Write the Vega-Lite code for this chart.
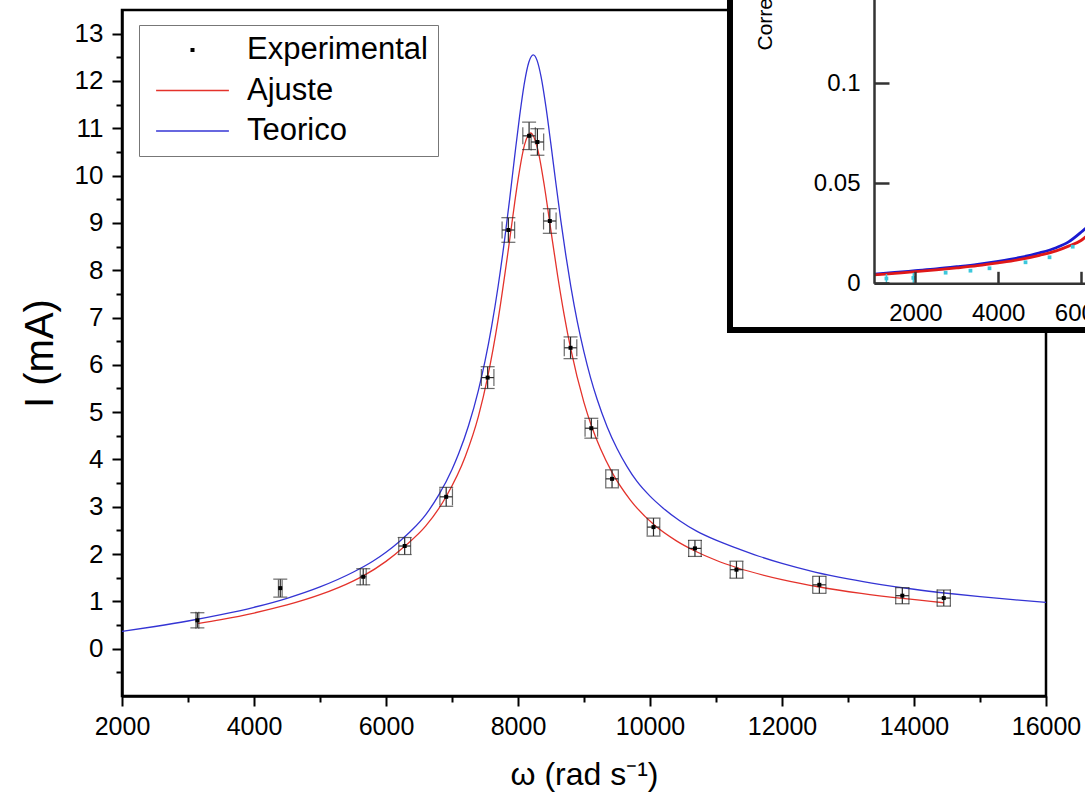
{
  "$schema": "https://vega.github.io/schema/vega-lite/v6.json",
  "width": 924,
  "height": 686,
  "autosize": "none",
  "padding": {"left": 122, "top": 10, "right": 39, "bottom": 107},
  "background": "white",
  "view": {"stroke": "black", "strokeWidth": 2.5},
  "config": {
    "font": "Liberation Sans",
    "axis": {"grid": false, "labelColor": "black", "titleColor": "black", "titleFontWeight": "normal", "labelFlush": false}
  },
  "datasets": {
    "teo": [
      {"w": 2000, "I": 0.365}, {"w": 2500, "I": 0.469}, {"w": 3000, "I": 0.585}, {"w": 3500, "I": 0.719},
      {"w": 4000, "I": 0.875}, {"w": 4500, "I": 1.066}, {"w": 5000, "I": 1.306}, {"w": 5500, "I": 1.616},
      {"w": 5800, "I": 1.848}, {"w": 6000, "I": 2.04}, {"w": 6200, "I": 2.262}, {"w": 6400, "I": 2.518},
      {"w": 6600, "I": 2.83}, {"w": 6800, "I": 3.25}, {"w": 7000, "I": 3.789}, {"w": 7100, "I": 4.119},
      {"w": 7250, "I": 4.712}, {"w": 7400, "I": 5.461}, {"w": 7500, "I": 6.076}, {"w": 7600, "I": 6.806},
      {"w": 7700, "I": 7.671}, {"w": 7800, "I": 8.678}, {"w": 7875, "I": 9.52}, {"w": 7950, "I": 10.411},
      {"w": 8025, "I": 11.262}, {"w": 8100, "I": 11.983}, {"w": 8165, "I": 12.4}, {"w": 8231, "I": 12.55},
      {"w": 8290, "I": 12.43}, {"w": 8350, "I": 12.087}, {"w": 8425, "I": 11.436}, {"w": 8500, "I": 10.648},
      {"w": 8575, "I": 9.827}, {"w": 8650, "I": 9.039}, {"w": 8725, "I": 8.313}, {"w": 8800, "I": 7.66},
      {"w": 8900, "I": 6.903}, {"w": 9000, "I": 6.269}, {"w": 9100, "I": 5.725}, {"w": 9200, "I": 5.266},
      {"w": 9350, "I": 4.693}, {"w": 9500, "I": 4.232}, {"w": 9650, "I": 3.855}, {"w": 9800, "I": 3.54},
      {"w": 10000, "I": 3.224}, {"w": 10200, "I": 2.97}, {"w": 10450, "I": 2.705}, {"w": 10700, "I": 2.49},
      {"w": 11000, "I": 2.293}, {"w": 11300, "I": 2.13}, {"w": 11650, "I": 1.954}, {"w": 12000, "I": 1.802},
      {"w": 12500, "I": 1.62}, {"w": 13000, "I": 1.475}, {"w": 13500, "I": 1.356}, {"w": 14000, "I": 1.256},
      {"w": 14500, "I": 1.172}, {"w": 15000, "I": 1.099}, {"w": 15500, "I": 1.036}, {"w": 16000, "I": 0.98}
    ],
    "aju": [
      {"w": 3142, "I": 0.529}, {"w": 3500, "I": 0.615}, {"w": 4000, "I": 0.754}, {"w": 4500, "I": 0.924},
      {"w": 5000, "I": 1.141}, {"w": 5500, "I": 1.429}, {"w": 5655, "I": 1.539}, {"w": 6000, "I": 1.846},
      {"w": 6283, "I": 2.165}, {"w": 6600, "I": 2.589}, {"w": 6912, "I": 3.216}, {"w": 7200, "I": 4.057},
      {"w": 7400, "I": 4.91}, {"w": 7540, "I": 5.74}, {"w": 7700, "I": 6.967}, {"w": 7854, "I": 8.441},
      {"w": 7950, "I": 9.428}, {"w": 8000, "I": 9.909}, {"w": 8100, "I": 10.656}, {"w": 8190, "I": 10.9},
      {"w": 8300, "I": 10.549}, {"w": 8400, "I": 9.775}, {"w": 8482, "I": 8.999}, {"w": 8600, "I": 7.888},
      {"w": 8700, "I": 7.051}, {"w": 8796, "I": 6.356}, {"w": 9000, "I": 5.201}, {"w": 9111, "I": 4.718},
      {"w": 9250, "I": 4.224}, {"w": 9425, "I": 3.728}, {"w": 9700, "I": 3.147}, {"w": 10053, "I": 2.628},
      {"w": 10400, "I": 2.278}, {"w": 10681, "I": 2.064}, {"w": 11000, "I": 1.869}, {"w": 11310, "I": 1.716},
      {"w": 12000, "I": 1.46}, {"w": 12566, "I": 1.304}, {"w": 13200, "I": 1.169}, {"w": 13823, "I": 1.062},
      {"w": 14451, "I": 0.971}
    ],
    "pts": [
      {"w": 3142, "I": 0.6, "Ilo": 0.44, "Ihi": 0.76, "wlo": 3120, "whi": 3164, "s": "Experimental"},
      {"w": 4398, "I": 1.28, "Ilo": 1.09, "Ihi": 1.47, "wlo": 4370, "whi": 4426, "s": "Experimental"},
      {"w": 5655, "I": 1.52, "Ilo": 1.35, "Ihi": 1.69, "wlo": 5610, "whi": 5700, "s": "Experimental"},
      {"w": 6283, "I": 2.17, "Ilo": 1.99, "Ihi": 2.35, "wlo": 6193, "whi": 6373, "s": "Experimental"},
      {"w": 6912, "I": 3.21, "Ilo": 3.01, "Ihi": 3.41, "wlo": 6817, "whi": 7007, "s": "Experimental"},
      {"w": 7540, "I": 5.73, "Ilo": 5.5, "Ihi": 5.96, "wlo": 7445, "whi": 7635, "s": "Experimental"},
      {"w": 7854, "I": 8.85, "Ilo": 8.59, "Ihi": 9.11, "wlo": 7759, "whi": 7949, "s": "Experimental"},
      {"w": 8168, "I": 10.84, "Ilo": 10.55, "Ihi": 11.13, "wlo": 8073, "whi": 8263, "s": "Experimental"},
      {"w": 8294, "I": 10.71, "Ilo": 10.43, "Ihi": 10.99, "wlo": 8199, "whi": 8389, "s": "Experimental"},
      {"w": 8482, "I": 9.04, "Ilo": 8.78, "Ihi": 9.3, "wlo": 8387, "whi": 8577, "s": "Experimental"},
      {"w": 8796, "I": 6.36, "Ilo": 6.13, "Ihi": 6.59, "wlo": 8701, "whi": 8891, "s": "Experimental"},
      {"w": 9111, "I": 4.66, "Ilo": 4.45, "Ihi": 4.87, "wlo": 9016, "whi": 9206, "s": "Experimental"},
      {"w": 9425, "I": 3.59, "Ilo": 3.4, "Ihi": 3.78, "wlo": 9330, "whi": 9520, "s": "Experimental"},
      {"w": 10053, "I": 2.57, "Ilo": 2.38, "Ihi": 2.76, "wlo": 9958, "whi": 10148, "s": "Experimental"},
      {"w": 10681, "I": 2.12, "Ilo": 1.95, "Ihi": 2.29, "wlo": 10586, "whi": 10776, "s": "Experimental"},
      {"w": 11310, "I": 1.67, "Ilo": 1.49, "Ihi": 1.85, "wlo": 11215, "whi": 11405, "s": "Experimental"},
      {"w": 12566, "I": 1.35, "Ilo": 1.17, "Ihi": 1.53, "wlo": 12466, "whi": 12666, "s": "Experimental"},
      {"w": 13823, "I": 1.12, "Ilo": 0.95, "Ihi": 1.29, "wlo": 13723, "whi": 13923, "s": "Experimental"},
      {"w": 14451, "I": 1.07, "Ilo": 0.9, "Ihi": 1.24, "wlo": 14351, "whi": 14551, "s": "Experimental"}
    ],
    "box": [{"x1": 11212, "x2": 17500, "y1": 6.737, "y2": 15}],
    "ib": [
      {"w": 1000, "c": 0.0046}, {"w": 1500, "c": 0.0054}, {"w": 2000, "c": 0.0063},
      {"w": 2500, "c": 0.0072}, {"w": 3000, "c": 0.0083}, {"w": 3500, "c": 0.0095},
      {"w": 4000, "c": 0.0110}, {"w": 4500, "c": 0.0128}, {"w": 5000, "c": 0.0152},
      {"w": 5400, "c": 0.0178}, {"w": 5700, "c": 0.0207}, {"w": 6000, "c": 0.0255},
      {"w": 6200, "c": 0.0292}
    ],
    "ir": [
      {"w": 1000, "c": 0.0042}, {"w": 1500, "c": 0.0050}, {"w": 2000, "c": 0.0058},
      {"w": 2500, "c": 0.0067}, {"w": 3000, "c": 0.0077}, {"w": 3500, "c": 0.0088},
      {"w": 4000, "c": 0.0102}, {"w": 4500, "c": 0.0118}, {"w": 5000, "c": 0.0140},
      {"w": 5400, "c": 0.0162}, {"w": 5700, "c": 0.0186}, {"w": 6000, "c": 0.0214},
      {"w": 6200, "c": 0.0248}
    ],
    "ic": [
      {"w": 1300, "c": 0.0024, "lo": 0.0002, "hi": 0.0046},
      {"w": 1950, "c": 0.0027, "lo": 0.0002, "hi": 0.0052},
      {"w": 2730, "c": 0.0053, "lo": 0.0049, "hi": 0.0057},
      {"w": 3330, "c": 0.0063, "lo": 0.0059, "hi": 0.0067},
      {"w": 3790, "c": 0.0075, "lo": 0.0071, "hi": 0.0079},
      {"w": 4660, "c": 0.0105, "lo": 0.0101, "hi": 0.0109},
      {"w": 5240, "c": 0.013, "lo": 0.0126, "hi": 0.0134},
      {"w": 5800, "c": 0.0183, "lo": 0.0179, "hi": 0.0187}
    ]
  },
  "layer": [
    {
      "layer": [
        {
          "data": {"name": "aju"},
          "mark": {"type": "line", "strokeWidth": 1.3, "color": "#e4322b", "interpolate": "monotone"},
          "encoding": {
            "x": {"field": "w", "type": "quantitative",
              "scale": {"domain": [2000, 16000], "nice": false, "zero": false},
              "axis": {"orient": "bottom", "values": [2000, 4000, 6000, 8000, 10000, 12000, 14000, 16000], "format": "d",
                "labelFontSize": 25, "labelPadding": 8, "tickSize": 10, "tickWidth": 2, "tickColor": "black",
                "domainColor": "black", "domainWidth": 2.5, "title": "ω (rad s⁻¹)", "titleFontSize": 32, "titlePadding": 20}},
            "y": {"field": "I", "type": "quantitative",
              "scale": {"domain": [-1, 13.5], "nice": false, "zero": false},
              "axis": {"orient": "left", "values": [0, 1, 2, 3, 4, 5, 6, 7, 8, 9, 10, 11, 12, 13],
                "labelFontSize": 26, "labelPadding": 9, "tickSize": 10, "tickWidth": 2, "tickColor": "black",
                "domainColor": "black", "domainWidth": 2.5, "title": "I (mA)", "titleFontSize": 40, "titlePadding": 14}}
          }
        },
        {
          "data": {"name": "teo"},
          "mark": {"type": "line", "strokeWidth": 1.3, "color": "#3434d4", "interpolate": "monotone"},
          "encoding": {
            "x": {"field": "w", "type": "quantitative", "axis": null},
            "y": {"field": "I", "type": "quantitative", "axis": null}
          }
        },
        {
          "data": {"name": "pts"},
          "mark": {"type": "errorbar", "color": "#2a2a2a", "thickness": 1.2, "ticks": {"size": 14, "thickness": 1.2}},
          "encoding": {
            "x": {"field": "w", "type": "quantitative", "axis": null},
            "y": {"field": "Ilo", "type": "quantitative", "axis": null},
            "y2": {"field": "Ihi"}
          }
        },
        {
          "data": {"name": "pts"},
          "mark": {"type": "errorbar", "color": "#2a2a2a", "thickness": 1.2, "ticks": {"size": 17, "thickness": 1.2}},
          "encoding": {
            "y": {"field": "I", "type": "quantitative", "axis": null},
            "x": {"field": "wlo", "type": "quantitative", "axis": null},
            "x2": {"field": "whi"}
          }
        },
        {
          "data": {"name": "pts"},
          "mark": {"type": "point", "shape": "square", "filled": true, "size": 16, "opacity": 1, "color": "black"},
          "encoding": {
            "x": {"field": "w", "type": "quantitative", "axis": null},
            "y": {"field": "I", "type": "quantitative", "axis": null}
          }
        },
        {
          "data": {"name": "pts"},
          "mark": {"type": "point", "filled": true, "size": 5300, "opacity": 0},
          "encoding": {
            "x": {"field": "w", "type": "quantitative", "axis": null},
            "y": {"field": "I", "type": "quantitative", "axis": null},
            "color": {"field": "s", "type": "nominal",
              "scale": {"domain": ["Experimental", "Ajuste", "Teorico"], "range": ["black", "#e4322b", "#3434d4"]},
              "legend": {"orient": "none", "legendX": 17, "legendY": 15, "title": null,
                "labelFontSize": 31, "labelFont": "Liberation Sans", "labelColor": "black", "labelLimit": 400,
                "symbolSize": 5300, "clipHeight": 30, "rowPadding": 9.5, "padding": 10,
                "strokeColor": "#777777", "symbolOffset": 7, "labelOffset": 18,
                "symbolOpacity": 1, "symbolStrokeWidth": 0}},
            "shape": {"field": "s", "type": "nominal",
              "scale": {"domain": ["Experimental", "Ajuste", "Teorico"],
                "range": ["M-0.055,-0.055H0.055V0.055H-0.055Z", "M-1,-0.022H1V0.022H-1Z", "M-1,-0.022H1V0.022H-1Z"]},
              "legend": {"orient": "none", "legendX": 17, "legendY": 15, "title": null,
                "labelFontSize": 31, "labelFont": "Liberation Sans", "labelColor": "black", "labelLimit": 400,
                "symbolSize": 5300, "clipHeight": 30, "rowPadding": 9.5, "padding": 10,
                "strokeColor": "#777777", "symbolOffset": 7, "labelOffset": 18,
                "symbolOpacity": 1, "symbolStrokeWidth": 0}}
          }
        },
        {
          "data": {"name": "box"},
          "mark": {"type": "rect", "fill": "white", "stroke": "black", "strokeWidth": 6},
          "encoding": {
            "x": {"field": "x1", "type": "quantitative",
              "axis": {"orient": "bottom", "values": [3000, 5000, 7000, 9000, 11000, 13000, 15000], "labels": false, "domain": false,
                "tickSize": 6, "tickWidth": 2, "tickColor": "black", "title": null}},
            "x2": {"field": "x2"},
            "y": {"field": "y1", "type": "quantitative",
              "axis": {"orient": "left", "values": [-0.5, 0.5, 1.5, 2.5, 3.5, 4.5, 5.5, 6.5, 7.5, 8.5, 9.5, 10.5, 11.5, 12.5], "labels": false, "domain": false,
                "tickSize": 6, "tickWidth": 2, "tickColor": "black", "title": null}},
            "y2": {"field": "y2"}
          }
        }
      ],
      "resolve": {"axis": {"x": "independent", "y": "independent"}}
    },
    {
      "layer": [
        {
          "data": {"name": "ib"},
          "mark": {"type": "line", "color": "#1a1ad0", "strokeWidth": 2.8, "interpolate": "monotone"},
          "encoding": {
            "x": {"field": "w", "type": "quantitative",
              "scale": {"domain": [1000, 16000], "range": [752, 1373], "nice": false, "zero": false},
              "axis": {"orient": "bottom", "offset": -412.7, "values": [2000, 4000, 6000], "format": "d",
                "tickSize": -12, "tickWidth": 2.5, "tickColor": "#333333", "domainColor": "#333333", "domainWidth": 2.5,
                "labelFontSize": 24, "labelPadding": 30, "title": null, "zindex": 1}},
            "y": {"field": "c", "type": "quantitative",
              "scale": {"domain": [0, 0.15], "range": [273.3, -26.7], "nice": false, "zero": false},
              "axis": {"orient": "left", "offset": -752, "values": [0, 0.05, 0.1], "format": "~g",
                "tickSize": -15, "tickWidth": 2.5, "tickColor": "#333333", "domainColor": "#333333", "domainWidth": 2.5,
                "labelFontSize": 24, "labelPadding": 29, "title": "Corrente (A)", "titleFontSize": 21,
                "titleX": -103, "titleY": 40, "titleAlign": "left", "titleBaseline": "alphabetic", "titleAngle": 270, "zindex": 1}}
          }
        },
        {
          "data": {"name": "ir"},
          "mark": {"type": "line", "color": "#e01818", "strokeWidth": 2.8, "interpolate": "monotone"},
          "encoding": {
            "x": {"field": "w", "type": "quantitative"},
            "y": {"field": "c", "type": "quantitative"}
          }
        },
        {
          "data": {"name": "ic"},
          "mark": {"type": "rule", "color": "#3cc8dc", "strokeWidth": 1.5},
          "encoding": {
            "x": {"field": "w", "type": "quantitative"},
            "y": {"field": "lo", "type": "quantitative"},
            "y2": {"field": "hi"}
          }
        },
        {
          "data": {"name": "ic"},
          "mark": {"type": "point", "shape": "square", "filled": true, "size": 14, "color": "#3cc8dc", "opacity": 1},
          "encoding": {
            "x": {"field": "w", "type": "quantitative"},
            "y": {"field": "c", "type": "quantitative"}
          }
        }
      ]
    }
  ],
  "resolve": {"scale": {"x": "independent", "y": "independent"}}
}
